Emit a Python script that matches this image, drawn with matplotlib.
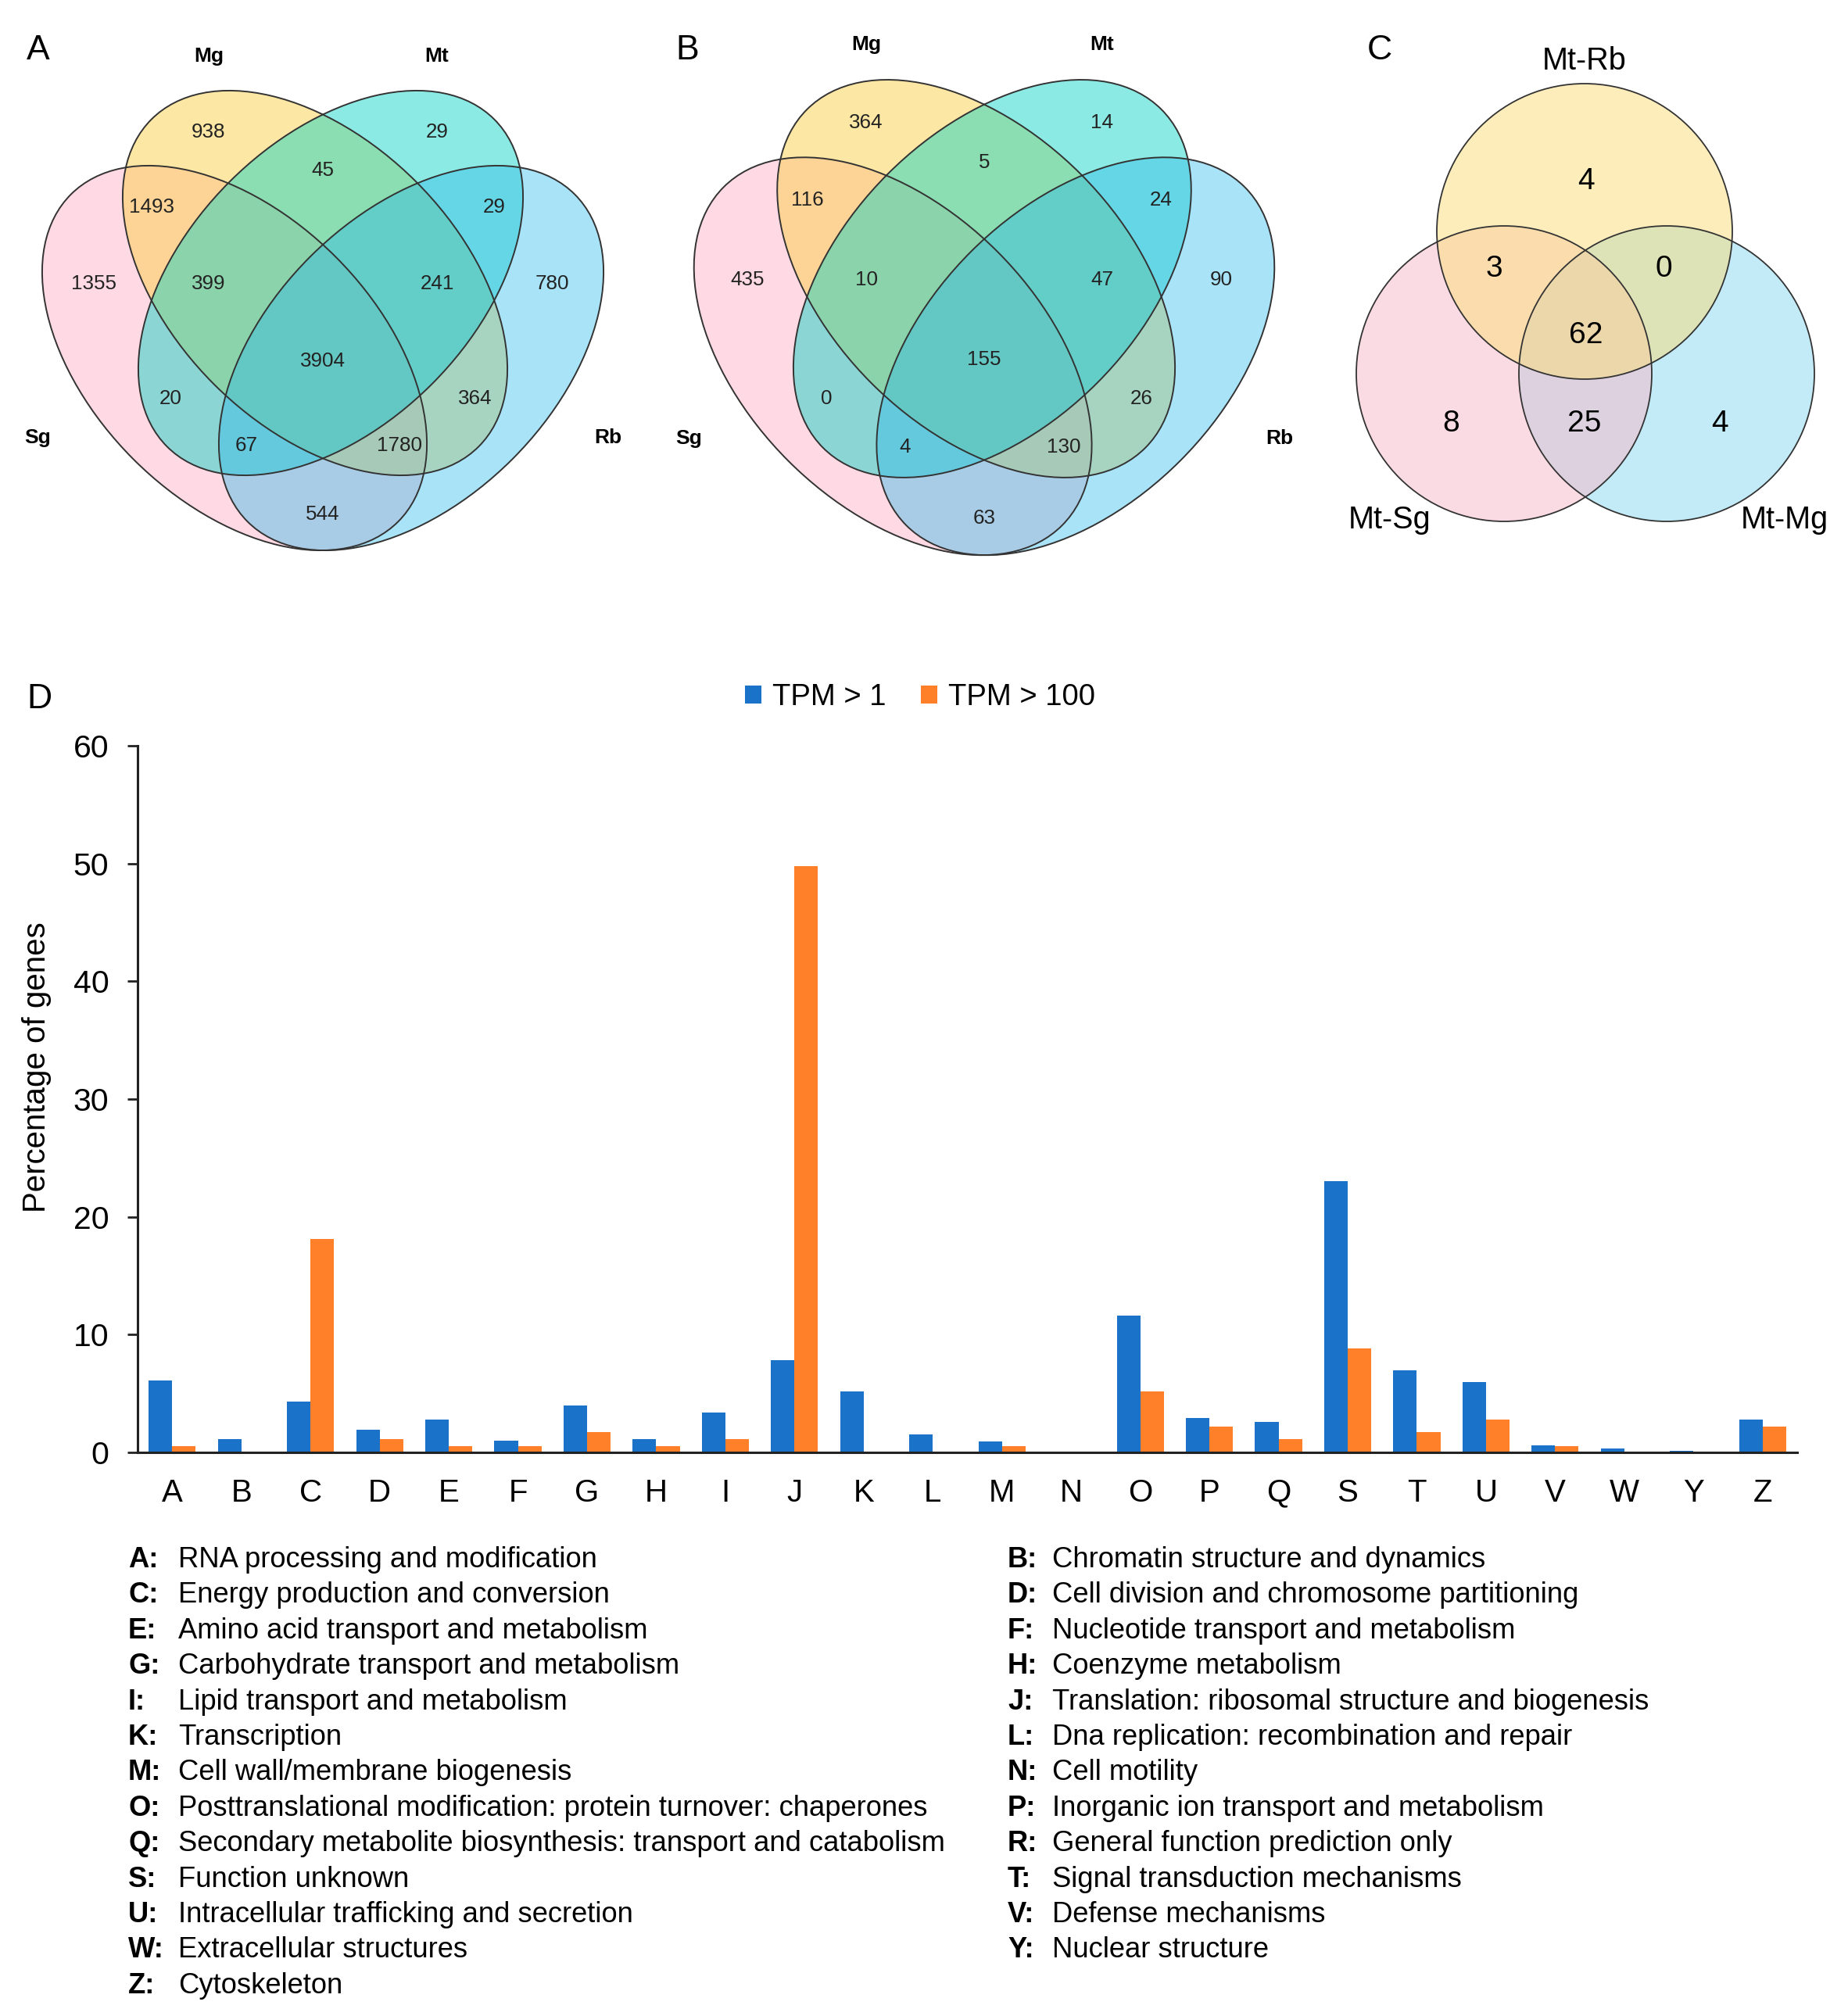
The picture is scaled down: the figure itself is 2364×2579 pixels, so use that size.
import matplotlib
matplotlib.use('Agg')
import matplotlib.pyplot as plt
from matplotlib.patches import Ellipse, Circle
import numpy as np

plt.rcParams['font.family'] = ['Liberation Sans', 'DejaVu Sans']

# ---------------- data ----------------
venn_sets = ['Sg', 'Mg', 'Mt', 'Rb']
venn_region_keys = ['Mg', 'Mt', 'Mg&Mt', 'Sg&Mg', 'Mt&Rb', 'Sg', 'Sg&Mg&Mt',
                    'Mg&Mt&Rb', 'Rb', 'all', 'Sg&Mt', 'Mg&Rb', 'Sg&Mt&Rb',
                    'Sg&Mg&Rb', 'Sg&Rb']
venn_a_counts = [938, 29, 45, 1493, 29, 1355, 399, 241, 780, 3904, 20, 364, 67, 1780, 544]
venn_b_counts = [364, 14, 5, 116, 24, 435, 10, 47, 90, 155, 0, 26, 4, 130, 63]

venn_c_sets = ['Mt-Rb', 'Mt-Sg', 'Mt-Mg']
venn_c_keys = ['Rb', 'Rb&Sg', 'Rb&Mg', 'all', 'Sg', 'Sg&Mg', 'Mg']
venn_c_counts = [4, 3, 0, 62, 8, 25, 4]

cog_codes = ['A', 'B', 'C', 'D', 'E', 'F', 'G', 'H', 'I', 'J', 'K', 'L', 'M',
             'N', 'O', 'P', 'Q', 'S', 'T', 'U', 'V', 'W', 'Y', 'Z']
tpm_gt1 = [6.1, 1.1, 4.3, 1.9, 2.8, 1.0, 4.0, 1.1, 3.4, 7.8, 5.2, 1.5, 0.9,
           0.0, 11.6, 2.9, 2.6, 23.0, 7.0, 6.0, 0.6, 0.3, 0.1, 2.8]
tpm_gt100 = [0.5, 0.0, 18.1, 1.1, 0.5, 0.5, 1.7, 0.5, 1.1, 49.8, 0.0, 0.0, 0.5,
             0.0, 5.2, 2.2, 1.1, 8.8, 1.7, 2.8, 0.5, 0.0, 0.0, 2.2]
series_names = ['TPM > 1', 'TPM > 100']

legend_left_codes = ['A', 'C', 'E', 'G', 'I', 'K', 'M', 'O', 'Q', 'S', 'U', 'W', 'Z']
legend_left_desc = ['RNA processing and modification',
                    'Energy production and conversion',
                    'Amino acid transport and metabolism',
                    'Carbohydrate transport and metabolism',
                    'Lipid transport and metabolism',
                    'Transcription',
                    'Cell wall/membrane biogenesis',
                    'Posttranslational modification: protein turnover: chaperones',
                    'Secondary metabolite biosynthesis: transport and catabolism',
                    'Function unknown',
                    'Intracellular trafficking and secretion',
                    'Extracellular structures',
                    'Cytoskeleton']
legend_right_codes = ['B', 'D', 'F', 'H', 'J', 'L', 'N', 'P', 'R', 'T', 'V', 'Y']
legend_right_desc = ['Chromatin structure and dynamics',
                     'Cell division and chromosome partitioning',
                     'Nucleotide transport and metabolism',
                     'Coenzyme metabolism',
                     'Translation: ribosomal structure and biogenesis',
                     'Dna replication: recombination and repair',
                     'Cell motility',
                     'Inorganic ion transport and metabolism',
                     'General function prediction only',
                     'Signal transduction mechanisms',
                     'Defense mechanisms',
                     'Nuclear structure']

# ---------------- layout ----------------
W, H = 2364, 2579
fig = plt.figure(figsize=(W / 100, H / 100), dpi=100)
ov = fig.add_axes([0, 0, 1, 1])
ov.set_xlim(0, W)
ov.set_ylim(H, 0)
ov.axis('off')

TXT = '#222222'
EDGE = '#333333'

# 4-set ellipse geometry (offsets from panel centre, pixels): dx, dy, angle
quad_geom = {'Sg': (-113, 51, 45), 'Mg': (-10, -45, 45),
             'Mt': (10, -45, -45), 'Rb': (113, 51, -45)}
quad_fill = {'Sg': ('#FFB4C8', 0.5), 'Mg': ('#FDD04B', 0.5),
             'Mt': ('#00D2C4', 0.45), 'Rb': ('#28B9EB', 0.4)}
quad_region_pos = {'Mg': (-146, -238), 'Mt': (146, -238), 'Mg&Mt': (0, -189),
                   'Sg&Mg': (-219, -142), 'Mt&Rb': (219, -142),
                   'Sg': (-293, -44), 'Sg&Mg&Mt': (-146, -44),
                   'Mg&Mt&Rb': (146, -44), 'Rb': (293, -44), 'all': (0, 55),
                   'Sg&Mt': (-195, 103), 'Mg&Rb': (195, 103),
                   'Sg&Mt&Rb': (-98, 163), 'Sg&Mg&Rb': (98, 163),
                   'Sg&Rb': (0, 251)}
quad_label_pos = {'Mg': (-146, -335), 'Mt': (146, -335),
                  'Sg': (-365, 153), 'Rb': (365, 153)}
ELL_W, ELL_H = 592, 366


def quad_venn(cx, cy, s, counts):
    for name in venn_sets:
        dx, dy, ang = quad_geom[name]
        col, al = quad_fill[name]
        ov.add_patch(Ellipse((cx + s * dx, cy + s * dy), s * ELL_W, s * ELL_H,
                             angle=ang, facecolor=col, alpha=al,
                             edgecolor='none', zorder=2))
    for name in venn_sets:
        dx, dy, ang = quad_geom[name]
        ov.add_patch(Ellipse((cx + s * dx, cy + s * dy), s * ELL_W, s * ELL_H,
                             angle=ang, facecolor='none', edgecolor=EDGE,
                             lw=1.4, zorder=3))
    for key, val in zip(venn_region_keys, counts):
        dx, dy = quad_region_pos[key]
        ov.text(cx + s * dx, cy + s * dy, str(val), fontsize=18.7, color=TXT,
                ha='center', va='center', zorder=4)
    for name in venn_sets:
        dx, dy = quad_label_pos[name]
        ov.text(cx + s * dx, cy + s * dy, name, fontsize=19, fontweight='bold',
                color='black', ha='center', va='center', zorder=4)


quad_venn(413, 407, 1.0, venn_a_counts)
quad_venn(1259, 403, 1.034, venn_b_counts)

# 3-set circles (panel C)
tri_centres = {'Mt-Rb': (2027, 296), 'Mt-Sg': (1924, 478), 'Mt-Mg': (2132, 478)}
tri_fill = {'Mt-Rb': '#FBDD79', 'Mt-Sg': '#F9B9C9', 'Mt-Mg': '#87D7F1'}
tri_draw_order = ['Mt-Mg', 'Mt-Sg', 'Mt-Rb']
R_C = 189
for name in tri_draw_order:
    ov.add_patch(Circle(tri_centres[name], R_C, facecolor=tri_fill[name],
                        alpha=0.5, edgecolor='none', zorder=2))
for name in tri_draw_order:
    ov.add_patch(Circle(tri_centres[name], R_C, facecolor='none',
                        edgecolor=EDGE, lw=1.3, zorder=3))
tri_region_pos = {'Rb': (2029, 232), 'Rb&Sg': (1911, 344), 'Rb&Mg': (2128, 344),
                  'all': (2029, 429), 'Sg': (1856, 542), 'Sg&Mg': (2027, 542),
                  'Mg': (2200, 542)}
for key, val in zip(venn_c_keys, venn_c_counts):
    x, y = tri_region_pos[key]
    ov.text(x, y, str(val), fontsize=28, color='black', ha='center',
            va='center', zorder=4)
tri_label_pos = {'Mt-Rb': (2027, 78), 'Mt-Sg': (1778, 665), 'Mt-Mg': (2283, 665)}
for name in venn_c_sets:
    x, y = tri_label_pos[name]
    ov.text(x, y, name, fontsize=28.5, color='black', ha='center', va='center',
            zorder=4)

# panel letters
for letter, (x, y) in zip(['A', 'B', 'C', 'D'],
                          [(49, 60), (879, 60), (1765, 60), (50, 890)]):
    ov.text(x, y + 16, letter, fontsize=32, ha='center', va='baseline',
            color='black')

# ---------------- bar chart (panel D) ----------------
ax = fig.add_axes([176 / W, 1 - 1858 / H, (2299 - 176) / W, (1858 - 954) / H])
x = np.arange(len(cog_codes))
bw = 0.34
ax.bar(x - bw / 2, tpm_gt1, bw, color='#1A73C9', label=series_names[0], zorder=2)
ax.bar(x + bw / 2, tpm_gt100, bw, color='#FF8029', label=series_names[1], zorder=2)
ax.set_xlim(-0.5, len(cog_codes) - 0.5)
ax.set_ylim(0, 60)
ax.set_yticks(np.arange(0, 61, 10))
ax.set_xticks(x)
ax.set_xticklabels(cog_codes)
ax.tick_params(axis='x', length=0, pad=23.5, labelsize=29)
ax.tick_params(axis='y', length=9.4, width=2.0, pad=17, labelsize=29.5,
               direction='out', color='#222222')
for sp in ['top', 'right']:
    ax.spines[sp].set_visible(False)
for sp in ['left', 'bottom']:
    ax.spines[sp].set_linewidth(2.2)
    ax.spines[sp].set_color('#222222')
ax.set_ylabel('Percentage of genes', fontsize=29)
ax.yaxis.set_label_coords(-0.052, 0.545)

fig.legend(loc='center', bbox_to_anchor=(1177 / W, 1 - 892 / H), ncol=2,
           frameon=False, fontsize=27.5, handlelength=0.53, handleheight=0.53,
           handletextpad=0.37, columnspacing=1.18, borderaxespad=0)

# category legend
row0, dy = 1992, 45.4
FS_LEG = 26.2
for i, (c, d) in enumerate(zip(legend_left_codes, legend_left_desc)):
    y = row0 + i * dy + 13
    ov.text(164, y, c + ':', fontsize=FS_LEG, fontweight='bold', va='baseline')
    ov.text(228, y, d, fontsize=FS_LEG, va='baseline')
for i, (c, d) in enumerate(zip(legend_right_codes, legend_right_desc)):
    y = row0 + i * dy + 13
    ov.text(1289, y, c + ':', fontsize=FS_LEG, fontweight='bold', va='baseline')
    ov.text(1346, y, d, fontsize=FS_LEG, va='baseline')

fig.savefig('out.png', dpi=100)
